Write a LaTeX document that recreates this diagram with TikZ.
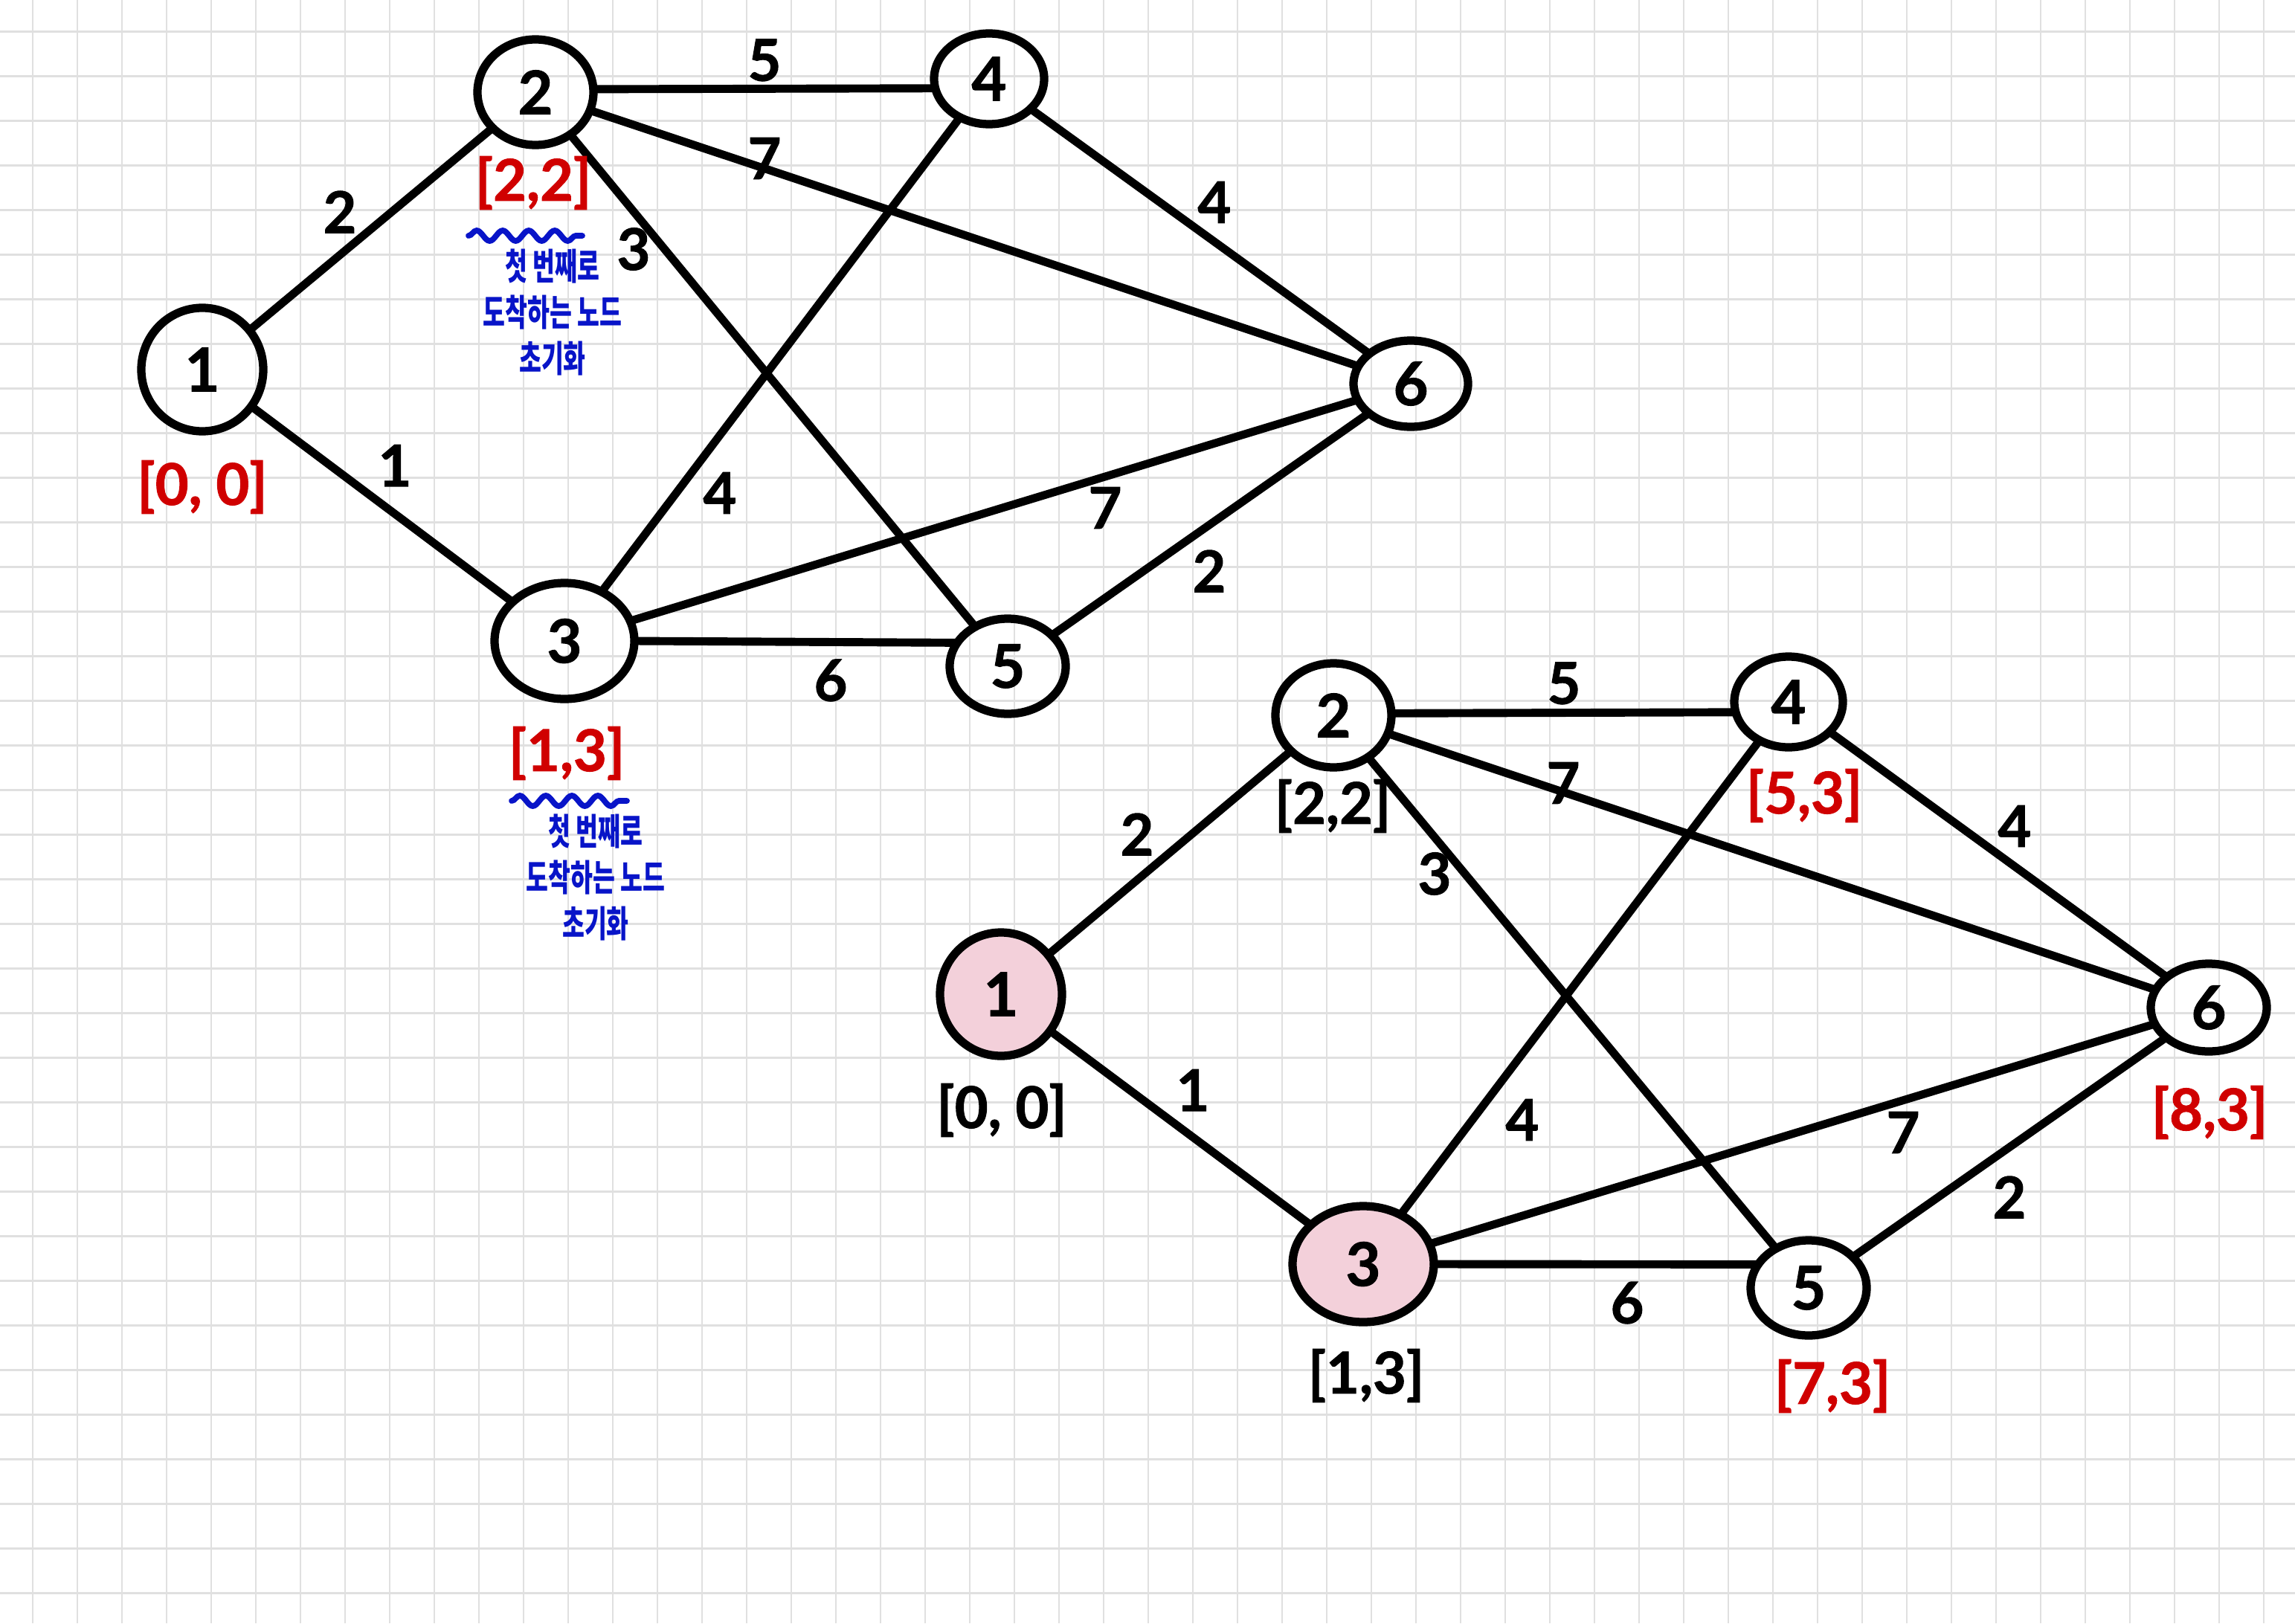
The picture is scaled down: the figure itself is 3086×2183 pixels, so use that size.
\documentclass[tikz,border=0pt]{standalone}
\usepackage{fontspec}
\usepackage{graphicx}
\setmainfont{Lato}[BoldFeatures={FakeBold=1.3}]
\newfontfamily\krfont{Noto Sans CJK KR}[FakeStretch=0.66]
\usetikzlibrary{shapes.geometric,decorations.pathmorphing}
\definecolor{gridc}{RGB}{224,224,224}
\definecolor{redc}{RGB}{208,0,0}
\definecolor{bluec}{RGB}{8,20,200}
\definecolor{pinkc}{RGB}{243,208,218}
\begin{document}
\begin{tikzpicture}[x=0.1mm,y=-0.1mm,
  vtx/.style={ellipse,draw=black,line width=3.2pt,inner sep=0pt,outer sep=0pt,
    font=\fontsize{23}{27}\selectfont\bfseries},
  visited/.style={fill=pinkc},
  edge/.style={line width=3.1pt,line cap=round},
  wt/.style={font=\fontsize{22}{26}\selectfont\bfseries,inner sep=0pt},
  dist/.style={font=\fontsize{22}{26}\selectfont\bfseries,inner sep=0pt},
  note/.style={text=bluec,font=\krfont\bfseries\fontsize{14}{17.7}\selectfont,
    align=center,inner sep=0pt},
  wavy/.style={draw=bluec,line width=2.2pt,line cap=round,decorate,
    decoration={snake,amplitude=0.7mm,segment length=3.5mm}}]
\useasboundingbox (0,0) rectangle (3086,2183);
\fill[white] (0,0) rectangle (3086,2183);
\foreach \k in {0,...,50} \draw[gridc,line width=0.6pt] ({44+60*\k},0) -- ({44+60*\k},2183);
\foreach \k in {0,...,35} \draw[gridc,line width=0.6pt] (0,{42.5+60*\k}) -- (3086,{42.5+60*\k});

% ---------- top graph ----------
\node[vtx,minimum width=16.4mm,minimum height=16.6mm] (t1) at (272,497) {1};
\node[vtx,minimum width=15.6mm,minimum height=14.2mm] (t2) at (720,124) {2};
\node[vtx,minimum width=14.8mm,minimum height=12.2mm] (t4) at (1330,106) {4};
\node[vtx,minimum width=15.4mm,minimum height=11.6mm] (t6) at (1897,516) {6};
\node[vtx,minimum width=18.8mm,minimum height=15.6mm] (t3) at (759,862) {3};
\node[vtx,minimum width=15.6mm,minimum height=12.8mm] (t5) at (1355,896) {5};

% ---------- bottom graph ----------
\node[vtx,visited,minimum width=16.4mm,minimum height=16.6mm] (b1) at (1346,1337) {1};
\node[vtx,minimum width=15.6mm,minimum height=14.0mm] (b2) at (1793,962) {2};
\node[vtx,minimum width=14.6mm,minimum height=12.2mm] (b4) at (2405,944) {4};
\node[vtx,minimum width=15.6mm,minimum height=11.8mm] (b6) at (2970,1355) {6};
\node[vtx,visited,minimum width=19.0mm,minimum height=15.6mm] (b3) at (1833,1700) {3};
\node[vtx,minimum width=15.6mm,minimum height=12.8mm] (b5) at (2432,1732) {5};

\foreach \g in {t,b}
  \foreach \a/\b in {1/2,1/3,2/6,2/5,4/6,4/3,3/6,5/6}
    \draw[edge] (\g\a) -- (\g\b);
\draw[edge] (t2.3) -- (t4.190);
\draw[edge] (t3.east) -- (t5.155);
\draw[edge] (b2.2) -- (b4.191);
\draw[edge] (b3.east) -- (b5.155);

% ---------- weights ----------
\node[wt] (wt12) at (457,285) {2};
\node[wt] (wt13) at (531,626) {1};
\node[wt] (wt24) at (1028,81) {5};
\node[wt] (wt26) at (1028,213) {7};
\node[wt] (wt25) at (852,335) {3};
\node[wt] (wt46) at (1633,272) {4};
\node[wt] (wt34) at (968,663) {4};
\node[wt] (wt36) at (1486,683) {7};
\node[wt] (wt56) at (1626,768) {2};
\node[wt] (wt35) at (1117,915) {6};

\node[wt] (wb12) at (1529,1122) {2};
\node[wt] (wb13) at (1604,1466) {1};
\node[wt] (wb24) at (2103,919) {5};
\node[wt] (wb26) at (2102,1053) {7};
\node[wt] (wb25) at (1929,1175) {3};
\node[wt] (wb46) at (2709,1111) {4};
\node[wt] (wb34) at (2047,1506) {4};
\node[wt] (wb36) at (2559,1523) {7};
\node[wt] (wb56) at (2702,1610) {2};
\node[wt] (wb35) at (2188,1752) {6};

% ---------- distance labels ----------
\node[dist,text=redc] (dt1) at (272,655) {[0, 0]};
\node[dist,text=redc] (dt2) at (717,246) {[2,2]};
\node[dist,text=redc] (dt3) at (762,1013) {[1,3]};

\node[dist] (db1) at (1347,1493) {[0, 0]};
\node[dist] (db2) at (1792,1084) {[2,2]};
\node[dist,text=redc] (db4) at (2426,1070) {[5,3]};
\node[dist,text=redc] (db6) at (2971,1496) {[8,3]};
\node[dist] (db3) at (1837,1850) {[1,3]};
\node[dist,text=redc] (db5) at (2464,1864) {[7,3]};

% ---------- notes ----------
\draw[wavy] (630,317) -- (783,317);
\node[note] (n1) at (743,420) {첫 번째로\\도착하는 노드\\초기화};
\draw[wavy] (688,1077) -- (843,1077);
\node[note] (n2) at (801,1180) {첫 번째로\\도착하는 노드\\초기화};
\end{tikzpicture}
\end{document}
